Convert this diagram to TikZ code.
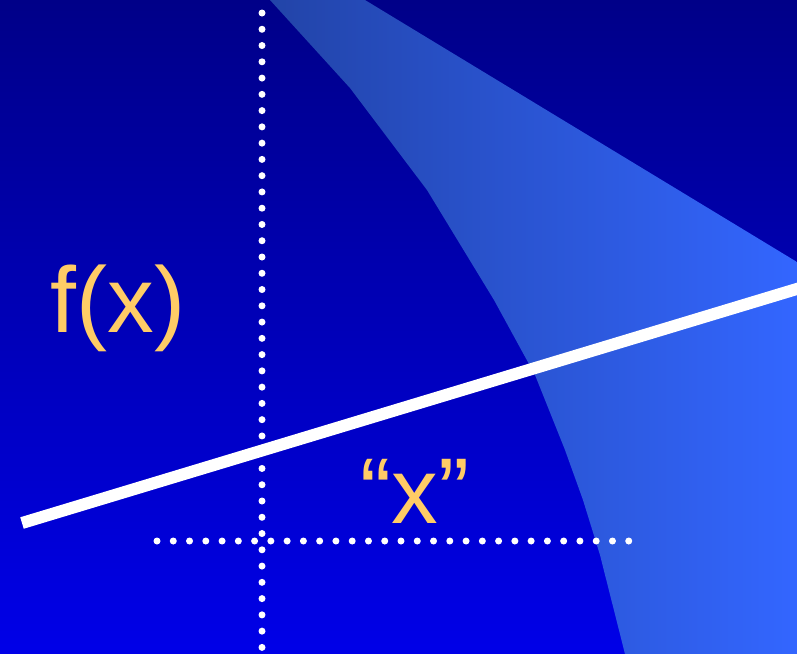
\documentclass[tikz,border=0pt]{standalone}
\usepackage{fontspec}
\setmainfont{Liberation Sans}
\definecolor{bgtop}{HTML}{000088}
\definecolor{bgbot}{HTML}{0000E8}
\definecolor{bandl}{HTML}{2244A8}
\definecolor{bandr}{HTML}{3366FF}
\definecolor{labelc}{HTML}{FFCC66}

\begin{document}
\begin{tikzpicture}[x=0.75pt, y=-0.75pt,
    every node/.style={text=labelc, inner sep=0pt},
    biglabel/.style={font=\fontsize{70}{80}\selectfont, anchor=base},
    dotline/.style={white, line width=5.25pt, line cap=round, dash pattern=on 0pt off 12.2pt},
    mainline/.style={white, line width=9pt}
]

% ---------------- canvas (797 x 654 px), vertical blue ----------------
\useasboundingbox (0,0) rectangle (797,654);
\shade[top color=bgtop, bottom color=bgbot] (0,0) rectangle (797,654);

% ---------------- lighter band, left edge bent ----------------
\shade[left color=bandl, right color=bandr]
    (270,0) -- (350,88) -- (427,190) -- (494,300) -- (535,375) -- (565,450)
    -- (583,500) -- (600,555) -- (625,654) -- (797,654) -- (797,262) -- (365,0) -- cycle;

% ---------------- dotted guides ----------------
\coordinate (vtop) at (262,13);
\coordinate (vbot) at (262,654);
\coordinate (hleft) at (157,541);
\coordinate (hright) at (630,541);
\draw[dotline] (vtop) -- (vbot);
\draw[dotline] (hleft) -- (hright);

% ---------------- white line ----------------
\coordinate (lstart) at (22,523);
\coordinate (lend) at (800,288);
\draw[mainline] (lstart) -- (lend);

% ---------------- labels ----------------
\node[biglabel] (fxlabel) at (118,332) {f(x)};
\node[biglabel] (xquote) at (415,523) {“x”};

\end{tikzpicture}
\end{document}
